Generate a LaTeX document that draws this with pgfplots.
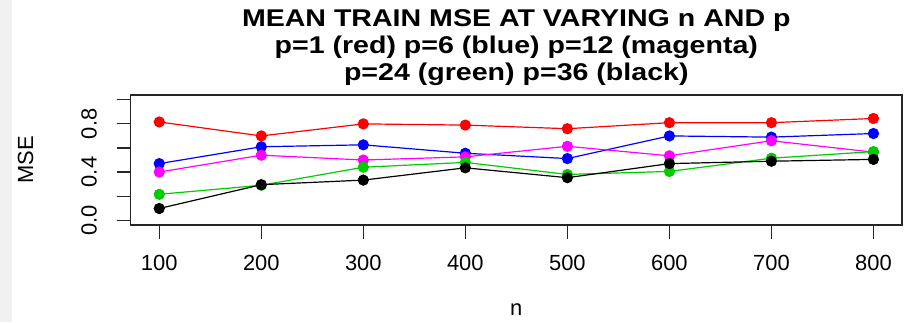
\documentclass[border=0pt]{standalone}
\usepackage{fontspec}
\setmainfont{Liberation Sans}
\newfontfamily\titlefont[FakeStretch=1.18]{Liberation Sans Bold}
\usepackage{pgfplots}
\usepackage{pgfplotstable}
\pgfplotsset{compat=1.18}

\definecolor{rred}{RGB}{255,0,0}
\definecolor{rblue}{RGB}{0,0,255}
\definecolor{rmagenta}{RGB}{255,0,255}
\definecolor{rgreen}{RGB}{0,205,0}
\definecolor{stripgray}{RGB}{240,240,240}

% Mean training MSE for each sample size n and each number of predictors p
\pgfplotstableread{
n    p1     p6     p12    p24    p36
100  0.816  0.470  0.400  0.215  0.097
200  0.700  0.610  0.540  0.290  0.295
300  0.800  0.626  0.500  0.440  0.333
400  0.790  0.556  0.526  0.480  0.435
500  0.760  0.512  0.614  0.380  0.353
600  0.810  0.700  0.535  0.405  0.470
700  0.810  0.690  0.660  0.515  0.490
800  0.845  0.720  0.565  0.570  0.505
}\msedata

\begin{document}
\begin{tikzpicture}[x=1bp,y=1bp]
\useasboundingbox (0,0) rectangle (919,322);
\fill[stripgray] (0,0) rectangle (11.7,322);
\begin{axis}[
  at={(130.7bp,97bp)}, anchor=south west,
  width=771.3bp, height=130bp, scale only axis,
  xmin=72, xmax=828, ymin=-0.04, ymax=1.04,
  xtick={100,200,300,400,500,600,700,800},
  ytick={0,0.2,0.4,0.6,0.8,1},
  yticklabels={0.0,,0.4,,0.8,},
  tick pos=left, tick align=outside, major tick length=14bp,
  axis line style={line width=1.2bp, black!85},
  every tick/.style={black!85, line width=1.2bp},
  ticklabel style={font=\fontsize{22}{26}\selectfont},
  /pgf/number format/assume math mode=true,
  /pgf/number format/1000 sep={},
  xticklabel style={anchor=base, yshift=-31bp},
  yticklabel style={xshift=-20bp, rotate=90, anchor=base},
  every axis plot/.append style={line width=1.2bp, mark=*, mark size=5bp},
]
\addplot[rred, mark options={fill=rred, draw=rred}] table[x=n, y=p1] {\msedata};
\addplot[rblue, mark options={fill=rblue, draw=rblue}] table[x=n, y=p6] {\msedata};
\addplot[rmagenta, mark options={fill=rmagenta, draw=rmagenta}] table[x=n, y=p12] {\msedata};
\addplot[rgreen, mark options={fill=rgreen, draw=rgreen}] table[x=n, y=p24] {\msedata};
\addplot[black, mark options={fill=black, draw=black}] table[x=n, y=p36] {\msedata};
\end{axis}
\node[anchor=base, font=\titlefont\fontsize{24.3}{28}\selectfont] at (516.3,296) {MEAN TRAIN MSE AT VARYING n AND p};
\node[anchor=base, font=\titlefont\fontsize{24.3}{28}\selectfont] at (516.3,268.7) {p=1 (red) p=6 (blue) p=12 (magenta)};
\node[anchor=base, font=\titlefont\fontsize{24.3}{28}\selectfont] at (516.3,241.5) {p=24 (green) p=36 (black)};
\node[rotate=90, anchor=base, font=\fontsize{22}{26}\selectfont] at (33,162) {MSE};
\node[anchor=base, font=\fontsize{22}{26}\selectfont] at (516.3,7) {n};
\end{tikzpicture}
\end{document}
